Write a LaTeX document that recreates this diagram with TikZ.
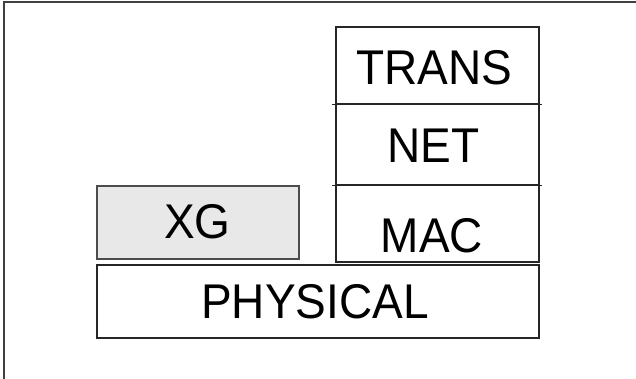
\documentclass[tikz,border=0pt]{standalone}
\usepackage{fontspec}
\setmainfont{Liberation Sans}
\newcommand{\tallword}[1]{\scalebox{1}[1.06]{#1}}
\begin{document}
\begin{tikzpicture}[x=1pt,y=-1pt,
  layer/.style={draw=black!85,line width=1.4pt,inner sep=0pt},
  lbl/.style={anchor=base,inner sep=0pt,font=\fontsize{46}{46}\selectfont}]
\useasboundingbox (0,0) rectangle (636,379);
% frame
\draw[black!75,line width=1.4pt] (4,379) -- (4,2) -- (636,2);
% protocol stack
\node[layer,minimum width=203pt,minimum height=77pt] (trans) at (437.5,65.5) {};
\node[layer,minimum width=203pt,minimum height=81pt] (net) at (437.5,144.5) {};
\node[layer,minimum width=203pt,minimum height=77pt] (mac) at (437.5,223.5) {};
\draw[black!85,line width=1.4pt] ([xshift=-3pt]trans.south west) -- ([xshift=2pt]trans.south east);
\draw[black!85,line width=1.4pt] ([xshift=-3pt]net.south west) -- ([xshift=2pt]net.south east);
\node[layer,fill=black!9,draw=black!70,minimum width=202pt,minimum height=73pt] (xg) at (198,222.5) {};
\node[layer,minimum width=442pt,minimum height=73pt] (phy) at (318,301.5) {};
% labels
\node[lbl] (ttrans) at (434.5,85) {\tallword{TRANS}};
\node[lbl] (tnet) at (433.5,163) {\tallword{NET}};
\node[lbl] (tmac) at (432,252) {\tallword{MAC}};
\node[lbl] (txg) at (197.5,238) {\tallword{XG}};
\node[lbl] (tphy) at (315,318) {\tallword{PHYSICAL}};
\end{tikzpicture}
\end{document}
